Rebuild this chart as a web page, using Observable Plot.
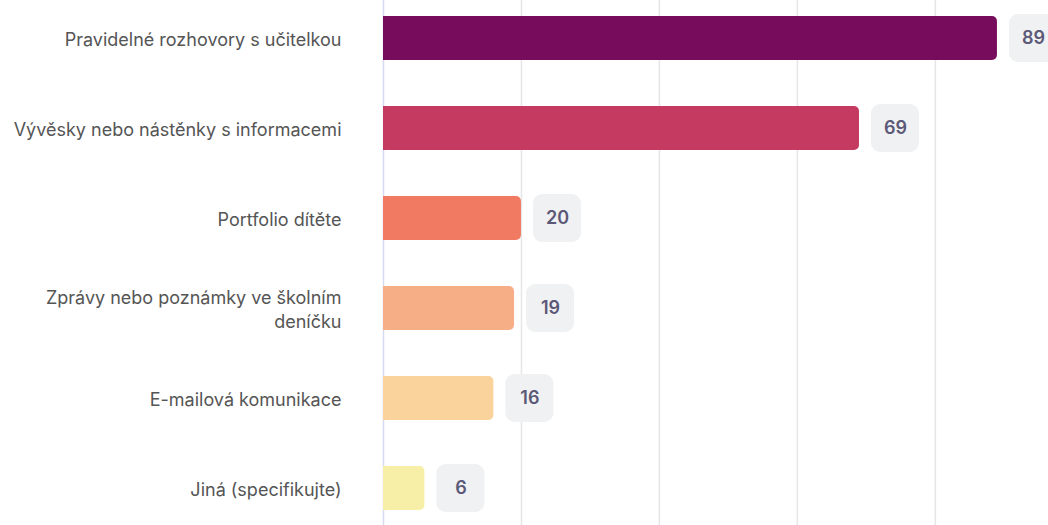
<!DOCTYPE html>
<html>
<head>
<meta charset="utf-8">
<script src="https://cdn.jsdelivr.net/npm/d3@7"></script>
<script src="https://cdn.jsdelivr.net/npm/@observablehq/plot@0.6"></script>
<style>
  html, body { margin: 0; padding: 0; background: #fff; }
  #chart svg { display: block; }
</style>
</head>
<body>
<div id="chart"></div>
<script>
const categories = [
  "Pravidelné rozhovory s učitelkou",
  "Vývěsky nebo nástěnky s informacemi",
  "Portfolio dítěte",
  "Zprávy nebo poznámky ve školním deníčku",
  "E-mailová komunikace",
  "Jiná (specifikujte)"
];
const values = [89, 69, 20, 19, 16, 6];
const colors = ["#780c5c", "#c43a60", "#f07a62", "#f5ae86", "#f9d39b", "#f7efa7"];
const gridTicks = [20, 40, 60, 80];

const data = categories.map((c, i) => ({category: c, value: values[i], color: colors[i]}));

const wrapLabel = (d) => d === "Zprávy nebo poznámky ve školním deníčku"
  ? "Zprávy nebo poznámky ve školním\ndeníčku" : d;

const chart = Plot.plot({
  width: 1048,
  height: 525,
  marginLeft: 383,
  marginRight: 0,
  marginTop: 0,
  marginBottom: 0,
  style: {fontFamily: "Inter, 'Noto Sans', sans-serif", background: "#fff"},
  x: {domain: [0, 96.4], axis: null},
  y: {domain: categories, range: [-7, 533], paddingInner: 0.511, paddingOuter: 0.2555, axis: null},
  marks: [
    Plot.ruleX(gridTicks, {stroke: "#e6e6e8", strokeWidth: 1.5}),
    Plot.ruleX([0], {stroke: "#d6dbf2", strokeWidth: 1.5}),
    Plot.barX(data, {x1: 0, x2: "value", y: "category", fill: "color", rx: 5}),
    Plot.barX(data, {x1: 0, x2: d => d.value / 2, y: "category", fill: "color"}),
    Plot.barX(data, {x1: "value", x2: "value", y: "category", fill: "#f0f1f2", rx: 9,
      dx: 12, insetLeft: 0, insetRight: -48, insetTop: -2, insetBottom: -2}),
    Plot.text(data, {x: "value", y: "category", text: d => String(d.value), dx: 36,
      textAnchor: "middle", fill: "#5b5977", fontSize: 18, fontWeight: 600}),
    Plot.axisY({tickSize: 0, tickPadding: 42, fontSize: 18, lineHeight: 1.33,
      color: "#555", tickFormat: wrapLabel, label: null})
  ]
});
document.getElementById("chart").appendChild(chart);
</script>
</body>
</html>
